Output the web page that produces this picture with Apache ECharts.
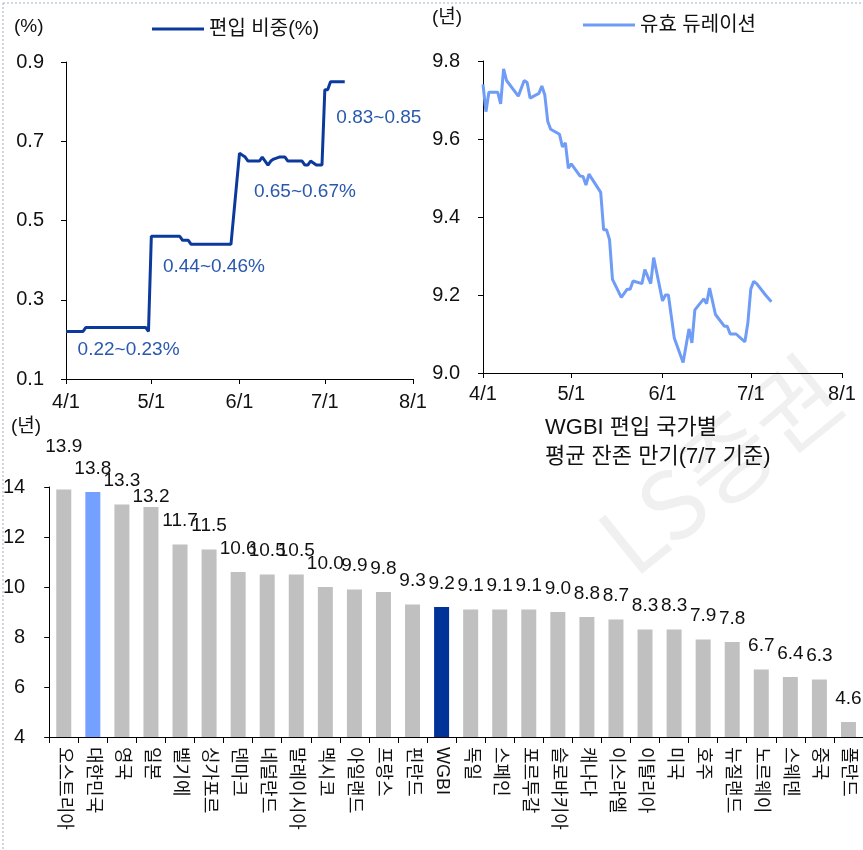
<!DOCTYPE html>
<html><head><meta charset="utf-8">
<script src="https://cdn.jsdelivr.net/npm/echarts@6/dist/echarts.min.js"></script>
<style>html,body{margin:0;padding:0;background:#fff}#c{width:863px;height:850px}</style>
</head><body><div id="c"></div>
<script>
// ---- data: WGBI weight (%) ----
const weightDates = ['2026-04-01','2026-04-07','2026-04-08','2026-04-29','2026-04-30','2026-05-01','2026-05-11','2026-05-12','2026-05-14','2026-05-15','2026-05-29','2026-06-01','2026-06-02','2026-06-03','2026-06-04','2026-06-08','2026-06-09','2026-06-11','2026-06-12','2026-06-13','2026-06-15','2026-06-17','2026-06-18','2026-06-23','2026-06-24','2026-06-25','2026-06-26','2026-06-28','2026-06-30','2026-07-01','2026-07-02','2026-07-03','2026-07-08'];
const weightValues = [0.22,0.22,0.23,0.23,0.22,0.46,0.46,0.45,0.45,0.44,0.44,0.67,0.665,0.66,0.65,0.65,0.66,0.64,0.65,0.655,0.66,0.66,0.65,0.65,0.64,0.64,0.65,0.64,0.64,0.83,0.83,0.85,0.85];
const weightNotes = ['0.22~0.23%','0.44~0.46%','0.65~0.67%','0.83~0.85'];
const weightNoteDates = ['2026-04-23','2026-05-23','2026-06-24','2026-07-20'];
const weightNoteValues = [0.174,0.383,0.573,0.759];

// ---- data: effective duration (years) ----
const durDates = ['2026-04-01','2026-04-02','2026-04-03','2026-04-06','2026-04-07','2026-04-08','2026-04-09','2026-04-13','2026-04-15','2026-04-16','2026-04-17','2026-04-20','2026-04-21','2026-04-22','2026-04-23','2026-04-24','2026-04-27','2026-04-28','2026-04-29','2026-04-30','2026-05-01','2026-05-04','2026-05-05','2026-05-06','2026-05-07','2026-05-11','2026-05-12','2026-05-13','2026-05-14','2026-05-15','2026-05-18','2026-05-20','2026-05-21','2026-05-22','2026-05-25','2026-05-26','2026-05-28','2026-05-29','2026-06-01','2026-06-02','2026-06-03','2026-06-05','2026-06-08','2026-06-10','2026-06-11','2026-06-12','2026-06-15','2026-06-16','2026-06-17','2026-06-19','2026-06-22','2026-06-23','2026-06-24','2026-06-26','2026-06-29','2026-06-30','2026-07-01','2026-07-02','2026-07-03','2026-07-06','2026-07-08'];
const durValues = [9.74,9.67,9.72,9.72,9.69,9.78,9.75,9.71,9.75,9.745,9.705,9.717,9.736,9.713,9.645,9.625,9.612,9.58,9.59,9.525,9.536,9.505,9.504,9.482,9.51,9.463,9.367,9.367,9.342,9.24,9.194,9.215,9.215,9.236,9.229,9.265,9.229,9.296,9.185,9.2,9.2,9.09,9.027,9.113,9.077,9.162,9.19,9.178,9.218,9.15,9.12,9.12,9.1,9.1,9.08,9.128,9.215,9.235,9.229,9.2,9.183];

// ---- data: average remaining maturity by country (years, 7/7) ----
const countries = ['오스트리아','대한민국','영국','일본','벨기에','싱가포르','덴마크','네덜란드','말레이시아','멕시코','아일랜드','프랑스','핀란드','WGBI','독일','스페인','포르투갈','슬로바키아','캐나다','이스라엘','이탈리아','미국','호주','뉴질랜드','노르웨이','스웨덴','중국','폴란드'];
const maturities = [13.9,13.8,13.3,13.2,11.7,11.5,10.6,10.5,10.5,10.0,9.9,9.8,9.3,9.2,9.1,9.1,9.1,9.0,8.8,8.7,8.3,8.3,7.9,7.8,6.7,6.4,6.3,4.6];

// ---- styling ----
const NARROW = "'Liberation Sans Narrow','Arial Narrow','Liberation Sans',Arial,sans-serif";
const MIXED = "'Liberation Sans','Noto Sans CJK KR',sans-serif";
const KR = "'Noto Sans CJK KR','Liberation Sans',sans-serif";
const barColorFor = {'대한민국':'#74a0ff','WGBI':'#003399'};
const labelNudge = {'오스트리아':-19,'일본':13};

function ts(s){const p=s.split('-').map(Number);return new Date(p[0],p[1]-1,p[2]).getTime();}
const tMin = ts('2026-04-01'), tMax = ts('2026-08-01');
const dateFmt = v => { const d=new Date(v); return (d.getMonth()+1)+'/'+d.getDate(); };

const axisLineStyle = {lineStyle:{color:'#000',width:1}};
const tickStyle = {show:true,length:5,lineStyle:{color:'#000'}};

function timeAxis(grid, margin){
  return {type:'time',gridIndex:grid,min:tMin,max:tMax,splitNumber:4,
    axisLine:axisLineStyle,axisTick:tickStyle,splitLine:{show:false},
    axisLabel:{formatter:dateFmt,color:'#111',fontSize:20,fontFamily:NARROW,margin:margin,showMinLabel:true,showMaxLabel:true,hideOverlap:false}};
}
function valAxis(grid,min,max,interval,dec,margin){
  return {type:'value',gridIndex:grid,min:min,max:max,interval:interval,
    axisLine:{show:true,lineStyle:{color:'#000'}},axisTick:tickStyle,splitLine:{show:false},
    axisLabel:{formatter:v=>Number(v).toFixed(dec),color:'#111',fontSize:20,fontFamily:NARROW,margin:margin}};
}

const chart = echarts.init(document.getElementById('c'),null,{renderer:'canvas'});
chart.setOption({
  backgroundColor:'#fff',
  animation:false,
  title:{text:'WGBI 편입 국가별\n평균 잔존 만기(7/7 기준)',left:540,top:408,
    textStyle:{fontSize:22,fontWeight:'normal',lineHeight:29,fontFamily:MIXED,color:'#111'}},
  legend:[
    {data:['편입 비중(%)'],left:147,top:14,icon:'rect',itemWidth:52,itemHeight:3,
      textStyle:{fontSize:20,fontFamily:MIXED,color:'#111'}},
    {data:['유효 듀레이션'],left:578,top:10,icon:'rect',itemWidth:52,itemHeight:3,
      textStyle:{fontSize:20,fontFamily:MIXED,color:'#111'}}
  ],
  grid:[
    {left:66,top:62,width:347,height:317},
    {left:483,top:61,width:359,height:312},
    {left:49,top:487,width:814,height:250}
  ],
  xAxis:[
    timeAxis(0,13),
    timeAxis(1,11),
    {type:'category',gridIndex:2,data:countries,
      axisLine:axisLineStyle,axisTick:{show:true,length:6,alignWithLabel:false,lineStyle:{color:'#000'}},
      axisLabel:{interval:0,rotate:-90,margin:10,fontSize:18,fontFamily:MIXED,color:'#111'}}
  ],
  yAxis:[
    valAxis(0,0.1,0.9,0.2,1,22),
    valAxis(1,9.0,9.8,0.2,1,23),
    valAxis(2,4,14,2,0,24)
  ],
  graphic:[
    {type:'line',shape:{x1:3,y1:3,x2:3,y2:850},style:{stroke:'#9fb0d0',lineWidth:1,lineDash:[2,2]},silent:true},
    {type:'line',shape:{x1:3,y1:3,x2:863,y2:3},style:{stroke:'#9fb0d0',lineWidth:1,lineDash:[2,2]},silent:true},
    {type:'text',x:612,y:552,rotation:0.68,z:-10,silent:true,
      style:{text:'LS증권',fontSize:94,fontFamily:KR,fill:'#f0f0f0',verticalAlign:'middle',align:'left'}},
    {type:'text',x:14,y:27,style:{text:'(%)',fontSize:19,fontFamily:MIXED,fill:'#111',verticalAlign:'middle'}},
    {type:'text',x:432,y:18,style:{text:'(년)',fontSize:19,fontFamily:MIXED,fill:'#111',verticalAlign:'middle'}},
    {type:'text',x:11,y:427,style:{text:'(년)',fontSize:19,fontFamily:MIXED,fill:'#111',verticalAlign:'middle'}}
  ],
  series:[
    {name:'편입 비중(%)',type:'line',xAxisIndex:0,yAxisIndex:0,showSymbol:false,
      data:weightDates.map((d,i)=>[ts(d),weightValues[i]]),
      lineStyle:{color:'#0b3a9c',width:3},itemStyle:{color:'#0b3a9c'},
      markPoint:{symbol:'rect',symbolSize:1,itemStyle:{color:'rgba(0,0,0,0)'},
        label:{show:true,position:'inside',formatter:'{b}',color:'#2a58ae',fontSize:19,fontFamily:NARROW},
        data:weightNotes.map((t,i)=>({name:t,coord:[ts(weightNoteDates[i]),weightNoteValues[i]]}))}},
    {name:'유효 듀레이션',type:'line',xAxisIndex:1,yAxisIndex:1,showSymbol:false,
      data:durDates.map((d,i)=>[ts(d),durValues[i]]),
      lineStyle:{color:'#6e9cf6',width:3},itemStyle:{color:'#6e9cf6'}},
    {name:'만기',type:'bar',xAxisIndex:2,yAxisIndex:2,barWidth:15,
      data:maturities.map((v,i)=>{
        const c=countries[i];
        const item={value:v,itemStyle:{color:barColorFor[c]||'#c0c0c0'}};
        if(labelNudge[c]) item.label={offset:[0,labelNudge[c]]};
        return item;
      }),
      label:{show:true,position:'top',distance:14,formatter:p=>Number(p.value).toFixed(1),
        fontSize:19,fontFamily:NARROW,color:'#111'}}
  ]
});
</script></body></html>
